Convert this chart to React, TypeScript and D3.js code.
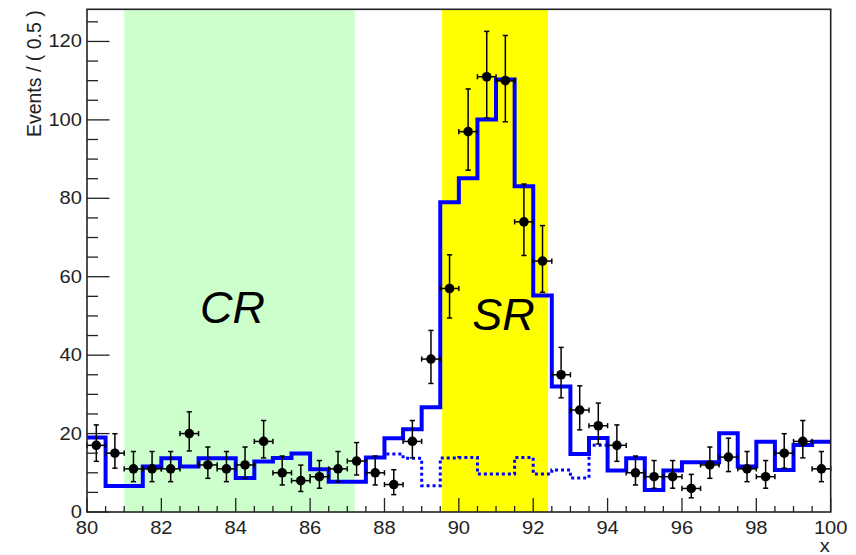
import React from 'react';
import * as d3 from 'd3';

const W = 856;
const H = 555;
const PL = 87, PR = 830.7, PT = 9.3, PB = 512;

const xDomain: [number, number] = [80, 100];
const yDomain: [number, number] = [0, 128.2];
const binWidth = 0.5;

// data points (bin centres, counts)
const dataX = [
  80.25, 80.75, 81.25, 81.75, 82.25, 82.75, 83.25, 83.75, 84.25, 84.75,
  85.25, 85.75, 86.25, 86.75, 87.25, 87.75, 88.25, 88.75, 89.25, 89.75,
  90.25, 90.75, 91.25, 91.75, 92.25, 92.75, 93.25, 93.75, 94.25, 94.75,
  95.25, 95.75, 96.25, 96.75, 97.25, 97.75, 98.25, 98.75, 99.25, 99.75,
];
const dataY = [
  17, 15, 11, 11, 11, 20, 12, 11, 12, 18,
  10, 8, 9, 11, 13, 10, 7, 18, 39, 57,
  97, 111, 110, 74, 64, 35, 26, 22, 17, 10,
  9, 9, 6, 12, 14, 11, 9, 15, 18, 11,
];

// total model (solid blue histogram), bins of 0.5 starting at 80
const modelStart = 80;
const modelY = [
  19, 6.6, 6.6, 11.6, 13.7, 11.6, 13.7, 13.7, 8.7, 12.9,
  13.8, 14.9, 10.9, 7.7, 7.7, 13.9, 18.8, 21.1, 26.7, 79.0,
  85.1, 100.1, 110.3, 83.1, 55.2, 32.0, 14.8, 18.9, 10.6, 13.7,
  5.6, 10.6, 12.7, 12.7, 20.1, 11.6, 17.9, 10.7, 17.1, 17.9,
];

// background component (dotted blue), bins of 0.5 starting at 87.5
const bkgStart = 87.5;
const bkgY = [13.9, 14.8, 13.7, 6.7, 13.8, 13.9, 9.7, 9.7, 13.9, 9.7, 10.7, 8.7, 17.0, 10.6];

const crRange = [81.0, 87.2];
const srRange = [89.55, 92.4];

const xMajor = [80, 82, 84, 86, 88, 90, 92, 94, 96, 98, 100];
const xLabels = ['80', '82', '84', '86', '88', '90', '92', '94', '96', '98', '100'];
const yMajor = [0, 20, 40, 60, 80, 100, 120];
const yLabels = ['0', '20', '40', '60', '80', '100', '120'];
const xMinorStep = 0.5;
const yMinorStep = 5;

function poissonInterval(n: number): [number, number] {
  if (n <= 0) return [0, 1.841];
  const up = n + 1 + Math.sqrt(n + 0.75);
  const lo = n * Math.pow(1 - 1 / (9 * n) - 1 / (3 * Math.sqrt(n)), 3);
  return [lo, up];
}

export default function App() {
  const x = d3.scaleLinear().domain(xDomain).range([PL, PR]);
  const y = d3.scaleLinear().domain(yDomain).range([PB, PT]);

  const stepLine = d3
    .line<[number, number]>()
    .x((d) => x(d[0]))
    .y((d) => y(d[1]))
    .curve(d3.curveStepAfter);

  const histPts = (start: number, vals: number[]): [number, number][] => {
    const pts: [number, number][] = vals.map((v, i) => [start + i * binWidth, v]);
    pts.push([start + vals.length * binWidth, vals[vals.length - 1]]);
    return pts;
  };

  const modelPath = stepLine(histPts(modelStart, modelY)) || '';
  const bkgPath = stepLine(histPts(bkgStart, bkgY)) || '';

  const xMinor = d3.range(xDomain[0], xDomain[1] + 1e-9, xMinorStep).filter((v) => !xMajor.includes(v));
  const yMinor = d3.range(0, yDomain[1], yMinorStep).filter((v) => !yMajor.includes(v));

  const font = "'Liberation Sans', Arial, Helvetica, sans-serif";
  const sx = 1.15;
  const cap = 2.6;

  return (
    <svg width={W} height={H} style={{ position: 'absolute', left: 0, top: 0, background: '#fff' }}>
      <rect x={0} y={0} width={W} height={H} fill="#fff" />
      {/* regions */}
      <rect x={x(crRange[0])} y={PT} width={x(crRange[1]) - x(crRange[0])} height={PB - PT} fill="#ccffcc" />
      <rect x={x(srRange[0])} y={PT} width={x(srRange[1]) - x(srRange[0])} height={PB - PT} fill="#ffff00" />

      {/* background dotted */}
      <path d={bkgPath} fill="none" stroke="#0000ff" strokeWidth={3} strokeDasharray="3,3" />
      {/* total model */}
      <path d={modelPath} fill="none" stroke="#0000ff" strokeWidth={4} strokeLinejoin="miter" />

      {/* data */}
      <g stroke="#000" strokeWidth={1.5}>
        {dataX.map((cx, i) => {
          const n = dataY[i];
          const [lo, up] = poissonInterval(n);
          const px = x(cx);
          const py = y(n);
          const xl = x(cx - binWidth / 2);
          const xr = x(cx + binWidth / 2);
          return (
            <g key={i}>
              <line x1={px} x2={px} y1={y(lo)} y2={y(up)} />
              <line x1={px - cap} x2={px + cap} y1={y(lo)} y2={y(lo)} />
              <line x1={px - cap} x2={px + cap} y1={y(up)} y2={y(up)} />
              <line x1={xl} x2={xr} y1={py} y2={py} />
              <line x1={xl} x2={xl} y1={py - cap} y2={py + cap} />
              <line x1={xr} x2={xr} y1={py - cap} y2={py + cap} />
            </g>
          );
        })}
      </g>
      <g fill="#000">
        {dataX.map((cx, i) => (
          <circle key={i} cx={x(cx)} cy={y(dataY[i])} r={4.8} />
        ))}
      </g>

      {/* ticks */}
      <g stroke="#222" strokeWidth={1.3}>
        {xMajor.map((v) => (
          <line key={'xM' + v} x1={x(v)} x2={x(v)} y1={PB} y2={PB - 14} />
        ))}
        {xMinor.map((v) => (
          <line key={'xm' + v} x1={x(v)} x2={x(v)} y1={PB} y2={PB - 6} />
        ))}
        {yMajor.map((v) => (
          <line key={'yM' + v} x1={PL} x2={PL + 22.5} y1={y(v)} y2={y(v)} />
        ))}
        {yMinor.map((v) => (
          <line key={'ym' + v} x1={PL} x2={PL + 11} y1={y(v)} y2={y(v)} />
        ))}
      </g>

      {/* frame */}
      <rect x={PL} y={PT} width={PR - PL} height={PB - PT} fill="none" stroke="#222" strokeWidth={1.6} />

      {/* tick labels */}
      <g fontFamily={font} fontSize={17.5} fill="#222">
        {xMajor.map((v, i) => (
          <text key={'xl' + v} transform={`translate(${x(v)},${533.5}) scale(${sx},1)`} textAnchor="middle">
            {xLabels[i]}
          </text>
        ))}
        {yMajor.map((v, i) => (
          <text key={'yl' + v} transform={`translate(${PL - 5},${y(v) + 6}) scale(${sx},1)`} textAnchor="end">
            {yLabels[i]}
          </text>
        ))}
        <text transform={`translate(${PR - 1},${551.5}) scale(${sx},1)`} textAnchor="end">
          x
        </text>
      </g>

      {/* axis title */}
      <text
        transform={`translate(40.5,${PT + 1}) rotate(-90)`}
        textAnchor="end"
        fontFamily={font}
        fontSize={19.5}
        fill="#222"
      >
        Events / ( 0.5 )
      </text>

      {/* region labels */}
      <text x={x(83.04)} y={y(48.2)} fontFamily={font} fontSize={45} fontStyle="italic" fill="#000">
        CR
      </text>
      <text x={x(90.36)} y={y(46.4)} fontFamily={font} fontSize={45} fontStyle="italic" fill="#000">
        SR
      </text>
    </svg>
  );
}
